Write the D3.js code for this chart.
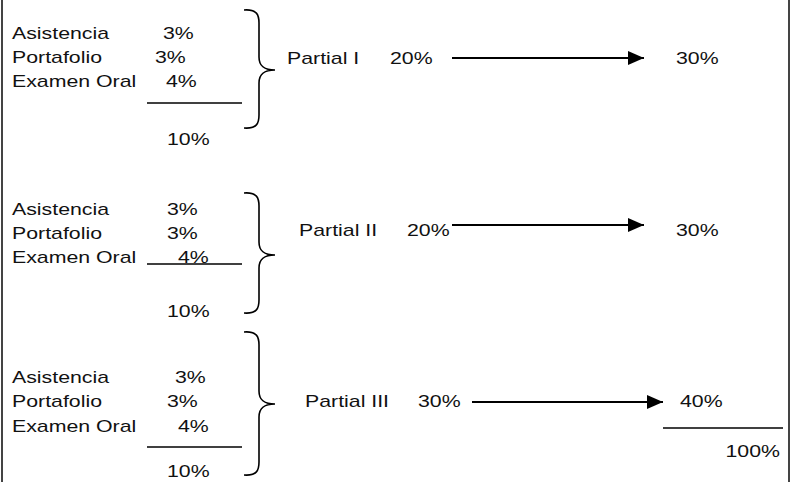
<!DOCTYPE html>
<html lang="es">
<head>
<meta charset="UTF-8">
<title>Partial grading scheme</title>
<script src="https://d3js.org/d3.v7.min.js"></script>
<style>
  body { margin: 0; background: #fff; }
  svg text { font-family: "Liberation Sans", Arial, sans-serif; font-size: 16.4px; fill: #111; }
</style>
</head>
<body>
<div id="chart"></div>
<script>
// data
const components = ["Asistencia", "Portafolio", "Examen Oral"];
const componentValues = [[3, 3, 4], [3, 3, 4], [3, 3, 4]];
const subtotals = [10, 10, 10];
const partials = ["Partial I", "Partial II", "Partial III"];
const examValues = [20, 20, 30];
const partialTotals = [30, 30, 40];
const grandTotal = 100;

// layout of each block (pixels)
const layout = [
  { rows: [39, 63, 87], valX: [163, 155, 166], rule: 103, sum: 145, brace: [10, 70, 128],
    textY: 64, arrowY: 58, labelX: 287, examX: 390, a0: 452, a1: 644, endX: 676 },
  { rows: [215, 239, 263], valX: [167, 167, 178], rule: 264, sum: 317, brace: [193, 255, 313],
    textY: 236, arrowY: 225, labelX: 299, examX: 407, a0: 452, a1: 644, endX: 676 },
  { rows: [383, 407, 432], valX: [175, 167, 178], rule: 447, sum: 477, brace: [332, 404, 475],
    textY: 407, arrowY: 402, labelX: 305, examX: 418, a0: 472, a1: 663, endX: 680 }
];

const width = 792, height = 482;
const stretch = 1.3; // the source scan is wider than it is tall
const pct = d => d + "%";

const svg = d3.select("#chart").append("svg")
  .attr("width", width).attr("height", height);

function label(sel, x, y, str, anchor) {
  return sel.append("text")
    .attr("transform", `translate(${x},${y}) scale(${stretch},1)`)
    .attr("text-anchor", anchor || "start")
    .text(str);
}

// frame sides
svg.append("line").attr("x1", 2).attr("x2", 2).attr("y1", 0).attr("y2", height)
  .attr("stroke", "#444").attr("stroke-width", 2);
svg.append("line").attr("x1", 789).attr("x2", 789).attr("y1", 0).attr("y2", height)
  .attr("stroke", "#444").attr("stroke-width", 2);

svg.append("defs").append("marker")
  .attr("id", "head").attr("viewBox", "0 0 16 14")
  .attr("refX", 16).attr("refY", 7)
  .attr("markerWidth", 16).attr("markerHeight", 14)
  .attr("markerUnits", "userSpaceOnUse").attr("orient", "auto")
  .append("path").attr("d", "M0,0L16,7L0,14Z").attr("fill", "#000");

function bracePath(x0, top, mid, bot) {
  const xv = 259, xt = 275, r = 13;
  const p = d3.path();
  p.moveTo(x0, top);
  p.bezierCurveTo(xv - 2, top - 1, xv, top + 5, xv, top + r);
  p.lineTo(xv, mid - r);
  p.bezierCurveTo(xv, mid - 3, xv + 6, mid, xt, mid);
  p.bezierCurveTo(xv + 6, mid, xv, mid + 3, xv, mid + r);
  p.lineTo(xv, bot - r);
  p.bezierCurveTo(xv, bot - 5, xv - 2, bot + 1, x0, bot);
  return p.toString();
}

partials.forEach((name, i) => {
  const L = layout[i];
  const g = svg.append("g");

  components.forEach((c, j) => {
    label(g, 12, L.rows[j], c);
    label(g, L.valX[j], L.rows[j], pct(componentValues[i][j]));
  });

  g.append("line").attr("x1", 147).attr("x2", 242).attr("y1", L.rule).attr("y2", L.rule)
    .attr("stroke", "#000").attr("stroke-width", 1.5);

  label(g, 167, L.sum, pct(subtotals[i]));

  g.append("path").attr("d", bracePath(244, L.brace[0], L.brace[1], L.brace[2]))
    .attr("fill", "none").attr("stroke", "#000").attr("stroke-width", 1.6);

  label(g, L.labelX, L.textY, name);
  label(g, L.examX, L.textY, pct(examValues[i]));

  g.append("line").attr("x1", L.a0).attr("x2", L.a1).attr("y1", L.arrowY).attr("y2", L.arrowY)
    .attr("stroke", "#000").attr("stroke-width", 2).attr("marker-end", "url(#head)");

  label(g, L.endX, L.textY, pct(partialTotals[i]));
});

// grand total
svg.append("line").attr("x1", 663).attr("x2", 783).attr("y1", 428).attr("y2", 428)
  .attr("stroke", "#000").attr("stroke-width", 1.5);
label(svg, 780, 457, pct(grandTotal), "end");
</script>
</body>
</html>
